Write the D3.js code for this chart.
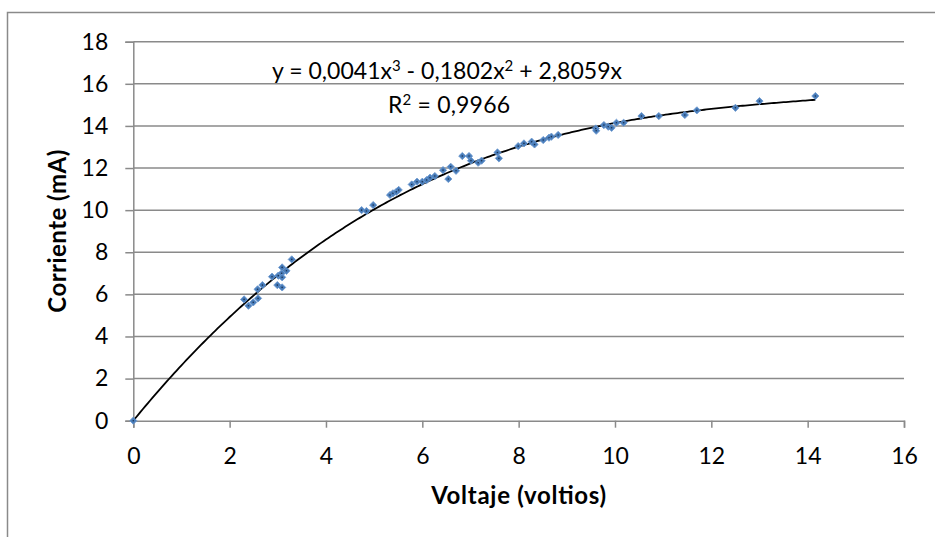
<!DOCTYPE html>
<html><head><meta charset="utf-8">
<script src="https://cdn.jsdelivr.net/npm/d3@7"></script>
<style>body{margin:0;background:#fff;} svg{display:block;} text{font-family:Lato,"Open Sans",sans-serif;fill:#000;}</style>
</head><body>
<svg id="c" width="935" height="537"></svg>
<script>
const voltage = [0, 2.30, 2.39, 2.49, 2.59, 2.58, 2.68, 2.88, 2.99, 3.01, 3.08, 3.09, 3.09, 3.09, 3.18, 3.29, 4.74, 4.84, 4.98, 5.33, 5.39, 5.46, 5.51, 5.78, 5.89, 6.00, 6.09, 6.16, 6.26, 6.43, 6.54, 6.59, 6.70, 6.83, 6.97, 7.01, 7.16, 7.23, 7.56, 7.59, 7.99, 8.11, 8.27, 8.33, 8.51, 8.63, 8.68, 8.82, 9.60, 9.61, 9.77, 9.86, 9.93, 10.03, 10.18, 10.55, 10.91, 11.45, 11.70, 12.50, 13.00, 14.16];
const current = [0, 5.76, 5.46, 5.62, 5.81, 6.24, 6.44, 6.84, 6.44, 6.89, 7.00, 7.28, 6.81, 6.33, 7.12, 7.66, 10.00, 9.96, 10.24, 10.72, 10.80, 10.87, 10.96, 11.22, 11.35, 11.35, 11.43, 11.54, 11.62, 11.90, 11.48, 12.06, 11.87, 12.57, 12.57, 12.35, 12.25, 12.35, 12.74, 12.46, 13.04, 13.17, 13.25, 13.12, 13.33, 13.44, 13.49, 13.57, 13.88, 13.77, 14.04, 13.96, 13.91, 14.15, 14.15, 14.47, 14.47, 14.52, 14.74, 14.86, 15.18, 15.42];
const xTicks = [0, 2, 4, 6, 8, 10, 12, 14, 16];
const yTicks = [0, 2, 4, 6, 8, 10, 12, 14, 16, 18];
const fitCoef = [2.8059, -0.1802, 0.0041]; // x, x^2, x^3
const xTitle = "Voltaje (voltios)";
const yTitle = "Corriente (mA)";

const svg = d3.select("#c");
const x = d3.scaleLinear().domain([0, 16]).range([133.3, 904]);
const y = d3.scaleLinear().domain([0, 18]).range([420.7, 41.7]);
const grid = "#8a8a8a";
const FS = 23;

// outer frame
svg.append("rect").attr("x", 7.5).attr("y", 12.5).attr("width", 1000).attr("height", 700)
  .attr("fill", "none").attr("stroke", grid).attr("stroke-width", 1.5);

// gridlines
svg.append("g").selectAll("line").data(yTicks.filter(d => d > 0)).join("line")
  .attr("x1", x(0)).attr("x2", x(16)).attr("y1", d => y(d)).attr("y2", d => y(d))
  .attr("stroke", grid).attr("stroke-width", 1.5);

// axes
const xAxis = svg.append("g").attr("transform", `translate(0,${y(0)})`)
  .call(d3.axisBottom(x).tickValues(xTicks).tickSize(7).tickPadding(20).tickFormat(d3.format("d")));
const yAxis = svg.append("g").attr("transform", `translate(${x(0)},0)`)
  .call(d3.axisLeft(y).tickValues(yTicks).tickSize(8).tickPadding(17).tickFormat(d3.format("d")));
[xAxis, yAxis].forEach(a => {
  a.select(".domain").attr("stroke", grid).attr("stroke-width", 1.5);
  a.selectAll(".tick line").attr("stroke", grid).attr("stroke-width", 1.5);
  a.selectAll("text").style("font-family", "Lato, 'Open Sans', sans-serif").style("font-size", FS + "px").attr("fill", "#000");
});

// trendline from fitted polynomial
const xs = d3.range(0, d3.max(voltage) + 0.001, 0.05).concat([d3.max(voltage)]);
const poly = v => fitCoef[0] * v + fitCoef[1] * v * v + fitCoef[2] * v * v * v;
svg.append("path").datum(xs)
  .attr("d", d3.line().x(d => x(d)).y(d => y(poly(d))))
  .attr("fill", "none").attr("stroke", "#000").attr("stroke-width", 1.8);

// markers
const pts = voltage.map((v, i) => [v, current[i]]);
const g = svg.append("g");
g.selectAll("path").data(pts).join("path")
  .attr("d", d3.symbol().type(d3.symbolSquare).size(26))
  .attr("transform", d => `translate(${x(d[0])},${y(d[1])}) rotate(45)`)
  .attr("fill", "#4a7ebb").attr("stroke", "#6b98d0").attr("stroke-width", 0.8);
g.selectAll("circle").data(pts).join("circle")
  .attr("cx", d => x(d[0])).attr("cy", d => y(d[1])).attr("r", 0.8).attr("fill", "#1c3354");

// equation label
const eq = svg.append("text").attr("x", 447).attr("y", 79).attr("text-anchor", "middle")
  .attr("textLength", 350).attr("lengthAdjust", "spacing").style("font-size", FS + "px");
eq.append("tspan").text("y = 0,0041x");
eq.append("tspan").text("3").attr("dy", -8).style("font-size", "15px");
eq.append("tspan").text(" - 0,1802x").attr("dy", 8);
eq.append("tspan").text("2").attr("dy", -8).style("font-size", "15px");
eq.append("tspan").text(" + 2,8059x").attr("dy", 8);
const r2 = svg.append("text").attr("x", 449).attr("y", 113).attr("text-anchor", "middle")
  .attr("textLength", 122).attr("lengthAdjust", "spacing").style("font-size", FS + "px");
r2.append("tspan").text("R");
r2.append("tspan").text("2").attr("dy", -8).style("font-size", "15px");
r2.append("tspan").text(" = 0,9966").attr("dy", 8);

// axis titles
svg.append("text").attr("x", x(8)).attr("y", 504).attr("text-anchor", "middle")
  .attr("textLength", 175).attr("lengthAdjust", "spacing")
  .style("font-size", "24px").style("font-weight", "bold").text(xTitle);
svg.append("text").attr("transform", `translate(66,${y(9)}) rotate(-90)`).attr("text-anchor", "middle")
  .attr("textLength", 163).attr("lengthAdjust", "spacing")
  .style("font-size", "24px").style("font-weight", "bold").text(yTitle);
</script>
</body></html>
